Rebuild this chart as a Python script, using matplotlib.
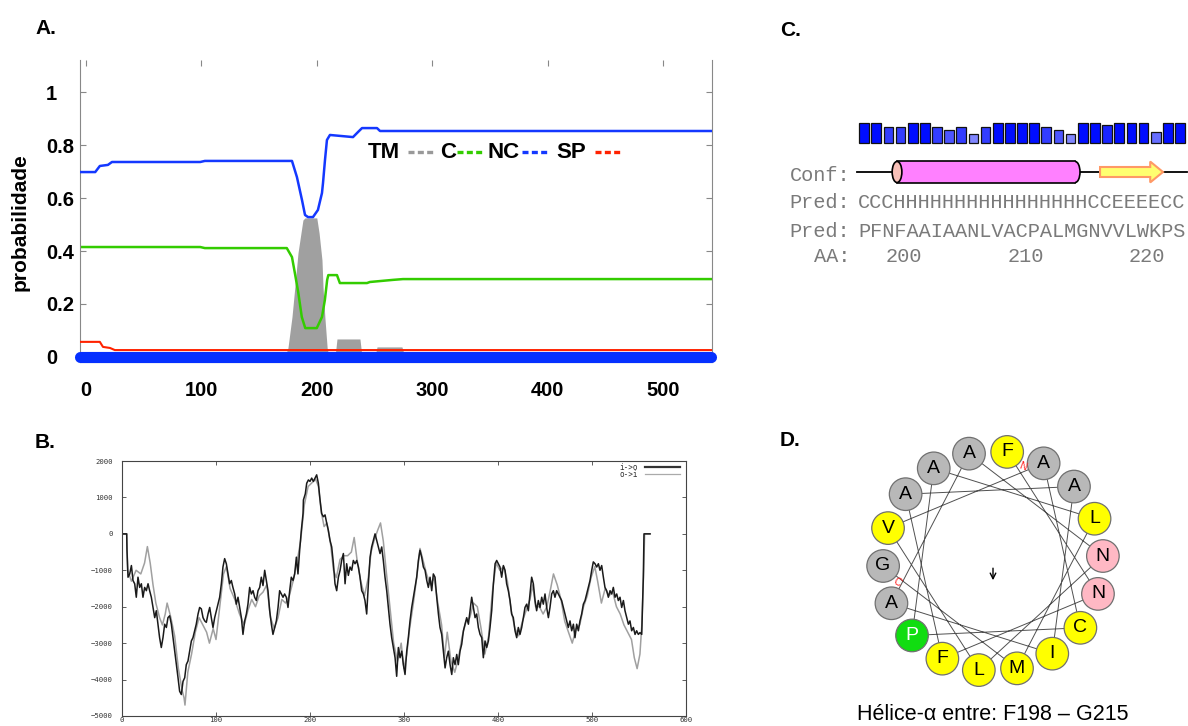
import numpy as np
import matplotlib
matplotlib.use("Agg")
import matplotlib.pyplot as plt
from matplotlib.patches import Rectangle, Ellipse, Circle, FancyArrow

plt.rcParams["font.family"] = ["Liberation Sans", "DejaVu Sans"]

# ---------------- data ----------------
# A. probability profile (TM, C, NC, SP)
nc_x = [-5, 8, 12, 19, 22.5, 99, 103, 178.5, 182.8, 187.2, 189.8, 192.4, 196.7, 201,
        204.5, 205.4, 207.1, 208.8, 211.4, 231.4, 235.7, 239.2, 252.2, 254.8, 542]
nc_y = [0.698, 0.698, 0.721, 0.725, 0.736, 0.736, 0.74, 0.74, 0.679, 0.592, 0.536, 0.528,
        0.528, 0.555, 0.619, 0.657, 0.743, 0.819, 0.838, 0.830, 0.849, 0.864, 0.864, 0.853, 0.853]
c_x = [-5, 99, 103, 174, 178.5, 181, 184, 187, 190, 200, 204.5, 207, 209, 210, 217.5,
       220, 243.5, 246, 266, 274.7, 542]
c_y = [0.415, 0.415, 0.411, 0.411, 0.377, 0.317, 0.242, 0.151, 0.109, 0.109, 0.151,
       0.215, 0.291, 0.309, 0.309, 0.279, 0.279, 0.283, 0.291, 0.294, 0.294]
tm_x = [-5, 172.4, 175, 178.5, 181, 183.7, 186.3, 188, 189.8, 200, 202, 204.5, 205.4,
        207, 209, 210.6, 215.8, 217.5, 237.4, 239.2, 250.4, 252.2, 273.8, 276.4, 542]
tm_y = [0, 0, 0.034, 0.151, 0.264, 0.392, 0.468, 0.517, 0.525, 0.525, 0.468, 0.366,
        0.264, 0.151, 0.034, 0, 0, 0.068, 0.068, 0, 0, 0.038, 0.038, 0, 0]
sp_x = [-5, 12, 14.7, 20.8, 25, 542]
sp_y = [0.057, 0.057, 0.038, 0.034, 0.026, 0.026]
topo_x = [-5, 542]
topo_y = [0, 0]
a_xticks = [0, 100, 200, 300, 400, 500]
a_yticks = [0, 0.2, 0.4, 0.6, 0.8, 1]
a_ylabels = ["0", "0.2", "0.4", "0.6", "0.8", "1"]

# B. hydropathy scan, i->o and o->i
b_io = [(0, 0), (5, 0), (5.3, -450), (6.4, -1190), (8.2, -1100), (10, -870), (11.7, -1280),
        (13.5, -1370), (15.2, -1740), (17, -1190), (18.8, -1470), (20.6, -1370), (22.3, -1740),
        (24.1, -1470), (25.9, -1560), (27.7, -1370), (29.4, -1560), (31.2, -1740), (33, -2020),
        (34.8, -2300), (36.5, -2110), (38.3, -2480), (40, -2850), (41.8, -3120), (43.6, -2850),
        (45.4, -2480), (47.2, -2570), (48.9, -2300), (50.7, -2250), (52.5, -2480), (54.3, -2850),
        (56, -3220), (57.8, -3590), (59.6, -3950), (61.3, -4320), (63.1, -4410), (64.9, -4050),
        (66.7, -3950), (68.4, -3590), (70.2, -3490), (72, -3220), (73.8, -2940), (75.5, -2850),
        (77.3, -2660), (79, -2480), (80.9, -2200), (82.6, -2020), (84.4, -2060), (86.2, -2300),
        (88, -2390), (89.7, -2430), (91.5, -2200), (93.3, -2020), (95, -2300), (96.8, -2570),
        (98.6, -2300), (100.4, -2110), (102.1, -1930), (103.9, -1740), (105.7, -1370),
        (107.4, -910), (109.2, -680), (111, -820), (112.8, -1100), (114.5, -1370), (116.3, -1280),
        (118, -1470), (119.9, -1650), (121.6, -1930), (123.4, -1740), (125.2, -2020), (127, -2300),
        (128.7, -2760), (130.5, -2390), (132.3, -2200), (134, -1930), (135.8, -1470),
        (137.6, -1650), (139.4, -1560), (141.1, -1740), (142.9, -1830), (144.7, -1560),
        (146.5, -1470), (148.2, -1190), (150, -1420), (151.8, -1000), (153.5, -1280),
        (155.3, -1560), (157.1, -2110), (158.9, -2480), (160.6, -2760), (162.4, -2570),
        (164.2, -2390), (166, -2020), (167.7, -1560), (169.5, -1650), (171.3, -1740),
        (173, -1650), (174.8, -1740), (176.6, -2020), (178.4, -1560), (180.1, -1190),
        (182, -1280), (183.7, -1100), (185.5, -640), (187.2, -1100), (189, -450), (190.8, 100),
        (192.6, 560), (193, 930), (195, 1100), (196.5, 1390), (198.3, 1480), (200, 1440),
        (201.8, 1530), (203.6, 1440), (205.4, 1530), (207.1, 1620), (208.9, 1390), (210.7, 930),
        (212.4, 560), (214.2, 470), (216, 520), (217.8, 290), (219.5, 100), (221.3, -180),
        (223.1, -360), (224.9, -820), (226.6, -1370), (228.4, -1560), (230.2, -1190),
        (232, -1000), (233.7, -730), (235.5, -540), (237.3, -1370), (239, -820), (240.8, -1140),
        (242.6, -910), (244.4, -1000), (246.1, -730), (247.9, -820), (249.7, -730), (251.5, -910),
        (253.2, -1190), (255, -1560), (256.8, -1650), (258.5, -1830), (260.3, -2200),
        (262.1, -1370), (263.9, -640), (265.6, -360), (267.4, -180), (269.2, 0), (271, -180),
        (272.7, -360), (274.5, -540), (276.3, -360), (278, -730), (279.8, -1190), (281.6, -1560),
        (283.4, -2020), (285.1, -2480), (286.9, -2850), (288.7, -3120), (290.5, -3400),
        (292.2, -3910), (294, -3120), (295.8, -3400), (297.6, -3220), (299.3, -3590),
        (301.1, -3860), (302.9, -3220), (304.6, -2850), (306.4, -2390), (308.2, -2020),
        (310, -1740), (311.7, -1470), (313.5, -1190), (315.3, -730), (317, -450), (318.8, -640),
        (320.6, -910), (322.4, -1000), (324.2, -1280), (325.9, -1470), (327.7, -1190),
        (329.5, -1560), (331.2, -1100), (333, -1190), (334.8, -1740), (336.6, -2200),
        (338.3, -2570), (340.1, -2760), (341.9, -3220), (343.7, -3680), (345.4, -3400),
        (347.2, -3220), (349, -3590), (350.8, -3860), (352.5, -3400), (354.3, -3590),
        (356.1, -3310), (357.8, -3590), (359.6, -3220), (361.4, -3030), (363.2, -2660),
        (364.9, -2480), (366.7, -2300), (368.5, -2480), (370.3, -2110), (372, -1740),
        (373.8, -2020), (375.6, -2300), (377.3, -2200), (379.1, -2570), (380.9, -2760),
        (382.7, -2850), (384.4, -3400), (386.2, -2940), (388, -3120), (389.8, -2940),
        (391.5, -2570), (393.3, -2110), (395.1, -1370), (396.9, -820), (398.6, -730),
        (400.4, -820), (402.1, -910), (403.9, -1190), (405.7, -870), (407.5, -1000),
        (409.2, -1370), (411, -1560), (412.8, -1830), (414.5, -2200), (416.3, -2300),
        (418.1, -2660), (419.9, -2850), (421.6, -2570), (423.4, -2760), (425.2, -2570),
        (427, -2300), (428.7, -2020), (430.5, -1930), (432.3, -2110), (434, -1650),
        (435.8, -1190), (437.6, -1370), (439.4, -1830), (441.1, -2110), (442.9, -1830),
        (444.7, -2020), (446.5, -1740), (448.2, -1930), (450, -1650), (451.8, -2020),
        (453.6, -2300), (455.3, -2020), (457.1, -1650), (458.9, -1560), (460.6, -1740),
        (462.4, -1560), (464.2, -1650), (466, -1740), (467.7, -1830), (469.5, -2020),
        (471.3, -2200), (473.1, -2390), (474.8, -2570), (476.6, -2390), (478.4, -2660),
        (480.2, -2480), (481.9, -2850), (483.7, -2480), (485.5, -2660), (487.2, -2390),
        (489, -2200), (490.8, -1930), (492.6, -1830), (494.3, -1650), (496.1, -1470),
        (497.9, -1280), (499.7, -1000), (501.4, -770), (503.2, -820), (505, -910), (506.8, -820),
        (508.5, -1000), (510.3, -870), (512.1, -1190), (513.8, -1470), (515.6, -1560),
        (517.4, -1740), (519.2, -1560), (520.9, -1650), (522.7, -1470), (524.5, -1740),
        (526.3, -1650), (528, -1830), (529.8, -1740), (531.6, -2020), (533.4, -1830),
        (535.1, -2110), (536.9, -2300), (538.7, -2480), (540.4, -2390), (542.2, -2660),
        (544, -2570), (545.8, -2760), (547.5, -2660), (549.3, -2760), (551.1, -2710),
        (552.9, -2760), (554.6, -1190), (555.3, 0), (561.7, 0)]
b_oi = [(0, 0), (5, 0), (6, -1000), (10, -1300), (15, -1000), (20, -1100), (24, -800),
        (27, -350), (30, -800), (33, -1400), (36, -1900), (40, -2300), (43, -2500), (46, -2200),
        (48, -1900), (52, -2300), (56, -2800), (60, -3700), (64, -4300), (66, -4500), (67, -4700),
        (70, -3800), (74, -3300), (78, -2700), (82, -2300), (86, -2500), (90, -2700), (93, -3000),
        (97, -2600), (100, -2900), (104, -2000), (108, -1100), (111, -900), (115, -1500),
        (120, -1800), (125, -2200), (130, -2500), (134, -2100), (138, -1800), (142, -2000),
        (146, -1700), (150, -1600), (154, -1400), (158, -2300), (162, -2600), (166, -2300),
        (170, -1800), (174, -1900), (178, -1700), (182, -1300), (186, -800), (190, -200),
        (194, 800), (198, 1300), (202, 1400), (206, 1500), (209, 1300), (212, 600), (215, 200),
        (218, 300), (222, -300), (225, -1000), (228, -1200), (232, -700), (236, -600),
        (240, -600), (244, -500), (247, -100), (250, -700), (254, -1300), (258, -1700),
        (262, -1200), (265, -500), (268, -200), (272, 100), (275, 300), (278, -200), (281, -1000),
        (285, -2000), (289, -3000), (293, -3500), (297, -3000), (300, -3700), (303, -3300),
        (306, -2600), (310, -1900), (314, -1100), (317, -400), (320, -700), (324, -1100),
        (328, -1400), (332, -1200), (336, -1900), (340, -2500), (343, -3400), (346, -2700),
        (350, -3500), (354, -3800), (358, -3400), (362, -2800), (366, -2400), (370, -2300),
        (374, -1900), (378, -2000), (382, -2600), (386, -3300), (390, -2800), (394, -1600),
        (398, -800), (402, -1000), (406, -900), (410, -1300), (414, -2100), (418, -2600),
        (422, -2800), (426, -2400), (430, -2100), (434, -1800), (437, -1400), (440, -2000),
        (444, -2000), (448, -2200), (452, -2000), (456, -1500), (459, -1100), (463, -1400),
        (467, -1800), (471, -2400), (475, -2700), (479, -3000), (483, -2600), (487, -2500),
        (491, -2000), (495, -1700), (499, -1200), (503, -900), (506, -1300), (510, -1900),
        (514, -1500), (518, -1700), (522, -1600), (526, -2000), (530, -2200), (534, -2500),
        (538, -2700), (542, -2900), (545, -3400), (548, -3700), (551, -3300), (553, -2500),
        (555, -1000), (556, 0), (562, 0)]
b_xticks = [0, 100, 200, 300, 400, 500, 600]
b_yticks = [-5000, -4000, -3000, -2000, -1000, 0, 1000, 2000]

# C. PSIPRED fragment
ss_pred = "CCCHHHHHHHHHHHHHHHHCCEEEECC"
aa_seq = "PFNFAAIAANLVACPALMGNVVLWKPS"
ss_conf = [9, 9, 7, 7, 9, 9, 7, 6, 7, 4, 7, 9, 9, 9, 9, 7, 6, 4, 9, 9, 8, 9, 9, 9, 5, 9, 9]
seq_start = 197

# D. helical wheel F198-G215
helix_seq = "FNFAAIAANLVACPALMG"
wheel_start = 82.6   # degrees, first residue
wheel_step = 100.0   # degrees per residue
res_colors = {"A": "#b8b8b8", "G": "#b8b8b8", "P": "#11dd11", "N": "#ffb8c4",
              "F": "#ffff00", "I": "#ffff00", "L": "#ffff00", "V": "#ffff00",
              "C": "#ffff00", "M": "#ffff00"}

# ---------------- figure ----------------
W, H = 1188, 726
fig = plt.figure(figsize=(W / 100, H / 100), dpi=100)


def px_axes(x0, y0, x1, y1):
    return fig.add_axes([x0 / W, 1 - y1 / H, (x1 - x0) / W, (y1 - y0) / H])


# ----- A -----
axA = px_axes(80, 60, 712, 362)
axA.fill_between(tm_x, tm_y, color="#a0a0a0", lw=0, zorder=1)
axA.plot(c_x, c_y, color="#33cc00", lw=1.8, zorder=2)
axA.plot(nc_x, nc_y, color="#1438ff", lw=1.8, zorder=3)
axA.plot(sp_x, sp_y, color="#ff2200", lw=1.5, zorder=3)
axA.plot(topo_x, topo_y, color="#0530ff", lw=8, solid_capstyle="round",
         clip_on=False, zorder=4)
axA.set_xlim(-5.2, 542.5)
axA.set_ylim(-0.019, 1.121)
axA.set_xticks(a_xticks)
axA.set_yticks(a_yticks)
axA.set_yticklabels(a_ylabels)
for lab in axA.get_yticklabels():
    lab.set_ha("left")
axA.tick_params(direction="in", length=4, width=0.8, color="#888888",
                top=True, right=True, labelsize=14.5)
axA.tick_params(axis="y", pad=24.5)
axA.tick_params(axis="x", pad=13.5)
for lab in axA.get_xticklabels() + axA.get_yticklabels():
    lab.set_fontweight("bold")
for side in ["left", "right", "bottom"]:
    axA.spines[side].set_color("#888888")
    axA.spines[side].set_linewidth(0.8)
axA.spines["top"].set_visible(False)

# legend line: name followed by a short dashed swatch
leg_y = 0.695
leg_items = [("TM", 0.456, "#999999", 0.519), ("C", 0.570, "#33cc00", 0.597),
             ("NC", 0.645, "#1438ff", 0.700), ("SP", 0.754, "#ff2200", 0.815)]
for name, xt, col, xd in leg_items:
    axA.text(xt, leg_y, name, transform=axA.transAxes, fontsize=16,
             fontweight="bold", va="center", ha="left")
    axA.plot([xd, xd + 0.039], [leg_y, leg_y], transform=axA.transAxes,
             color=col, lw=2.4, linestyle=(0, (1.8, 1.0)), solid_capstyle="butt")

fig.text(20 / W, 1 - 222 / H, "probabilidade", rotation=90, fontsize=15,
         fontweight="bold", ha="center", va="center")

# ----- B -----
axB = px_axes(122, 461, 686, 716)
oi_x, oi_y = zip(*b_oi)
io_x, io_y = zip(*b_io)
axB.plot(oi_x, oi_y, color="#a0a0a0", lw=1.1)
axB.plot(io_x, io_y, color="#1a1a1a", lw=1.1)
axB.set_xlim(0, 600)
axB.set_ylim(-5000, 2000)
axB.set_xticks(b_xticks)
axB.set_yticks(b_yticks)
axB.tick_params(direction="in", length=3, width=0.6, color="#444444",
                top=True, right=True, labelsize=5.2, labelcolor="#333333")
axB.tick_params(axis="y", pad=6.5)
axB.tick_params(axis="x", pad=1.0)
for lab in axB.get_xticklabels() + axB.get_yticklabels():
    lab.set_family("DejaVu Sans Mono")
for sp in axB.spines.values():
    sp.set_color("#444444")
    sp.set_linewidth(0.8)
axB.text(0.915, 0.976, "i->o", transform=axB.transAxes, fontsize=5.5,
         family="DejaVu Sans Mono", color="#333333", ha="right", va="center")
axB.text(0.915, 0.949, "o->i", transform=axB.transAxes, fontsize=5.5,
         family="DejaVu Sans Mono", color="#333333", ha="right", va="center")
axB.plot([0.927, 0.989], [0.976, 0.976], transform=axB.transAxes,
         color="#333333", lw=1.6)
axB.plot([0.927, 0.989], [0.949, 0.949], transform=axB.transAxes,
         color="#aaaaaa", lw=0.9)

# ----- C -----
axC = px_axes(770, 100, 1188, 270)
axC.set_xlim(-7.745, 26.66)
axC.set_ylim(-57.15, 19.35)
axC.axis("off")
idx = np.arange(len(ss_pred))
bar_cols = []
for c in ss_conf:
    f = 0.9 * (9 - c) / 9
    bar_cols.append((f, f + 0.05 * (1 - f), 1.0))
axC.bar(idx, ss_conf, width=0.8, bottom=0, color=bar_cols,
        edgecolor="#111111", linewidth=0.9)

conf_y = -13.05
axC.plot([idx[0] - 0.6, idx[-1] + 0.6], [conf_y, conf_y], color="black", lw=1.3, zorder=1)


def runs(s, ch):
    out, start = [], None
    for i, c in enumerate(s + " "):
        if c == ch and start is None:
            start = i
        elif c != ch and start is not None:
            out.append((start, i - 1))
            start = None
    return out


cyl_h = 4.73
for h0, h1 in runs(ss_pred, "H"):
    xl, xr = h0 - 0.29, h1 - 0.63
    axC.add_patch(Ellipse((xr, conf_y), 0.8, 2 * cyl_h, fc="#ff80ff",
                          ec="black", lw=1.2, zorder=2))
    axC.add_patch(Rectangle((xl, conf_y - cyl_h), xr - xl, 2 * cyl_h,
                            fc="#ff80ff", ec="none", zorder=3))
    axC.plot([xl, xr], [conf_y + cyl_h] * 2, color="black", lw=1.2, zorder=4)
    axC.plot([xl, xr], [conf_y - cyl_h] * 2, color="black", lw=1.2, zorder=4)
    axC.add_patch(Ellipse((xl, conf_y), 0.8, 2 * cyl_h, fc="#f8c0b8",
                          ec="black", lw=1.2, zorder=5))
for e0, e1 in runs(ss_pred, "E"):
    xt, xh = e0 - 1.58, e1 + 0.6
    axC.add_patch(FancyArrow(xt, conf_y, xh - xt, 0, width=4.5, head_width=9.4,
                             head_length=1.05, length_includes_head=True,
                             fc="#ffff70", ec="#ff9966", lw=1.5, zorder=3))

mono = dict(family="Liberation Mono", fontsize=14.55, color="#7a7a7a", va="baseline")
lab_x = -1.16
axC.text(lab_x, -17.1, "Conf:", ha="right", **mono)
axC.text(lab_x, -29.25, "Pred:", ha="right", **mono)
axC.text(lab_x, -42.3, "Pred:", ha="right", **mono)
axC.text(lab_x, -53.55, "AA:", ha="right", **mono)
axC.text(-0.5, -29.25, ss_pred, ha="left", **mono)
axC.text(-0.5, -42.3, aa_seq, ha="left", **mono)
for k in idx:
    num = seq_start + k
    if num % 10 == 0:
        axC.text(k + 0.3, -53.55, str(num), ha="center", **mono)

# ----- D -----
axD = px_axes(863, 431, 1123, 691)
axD.set_xlim(-1.1818, 1.1818)
axD.set_ylim(-1.1818, 1.1818)
axD.axis("off")
ang = np.deg2rad(wheel_start - wheel_step * np.arange(len(helix_seq)))
wx, wy = np.cos(ang), np.sin(ang)
axD.plot(wx, wy, color="#505050", lw=0.7, zorder=1)
for res, x, y in zip(helix_seq, wx, wy):
    axD.add_patch(Circle((x, y), 0.148, fc=res_colors[res], ec="#707070",
                         lw=0.9, zorder=2))
    axD.text(x, y, res, ha="center", va="center", fontsize=14,
             color="white" if res == "P" else "black", zorder=3)
a_n = np.deg2rad(wheel_start - 10)
axD.text(0.9 * np.cos(a_n), 0.9 * np.sin(a_n), "N", color="#ff2222", fontsize=7.5,
         rotation=-20, ha="center", va="center", zorder=4)
a_c = np.deg2rad(wheel_start - wheel_step * (len(helix_seq) - 1) + 10)
axD.text(0.89 * np.cos(a_c), 0.89 * np.sin(a_c), "C", color="#ff2222", fontsize=7.5,
         rotation=-30, ha="center", va="center", zorder=4)
axD.annotate("", xy=(0, -0.2), xytext=(0, -0.04),
             arrowprops=dict(arrowstyle="->", lw=1.0, color="black"))
fig.text(993 / W, 1 - 715 / H, "Hélice-α entre: F198 – G215", ha="center",
         va="center", fontsize=15.5)

# ----- panel letters -----
for lab, x, y in [("A.", 35, 28), ("B.", 35, 443), ("C.", 780, 30), ("D.", 780, 440)]:
    fig.text(x / W, 1 - y / H, lab, fontsize=15, fontweight="bold", va="center")

fig.savefig("out.png", dpi=100)
